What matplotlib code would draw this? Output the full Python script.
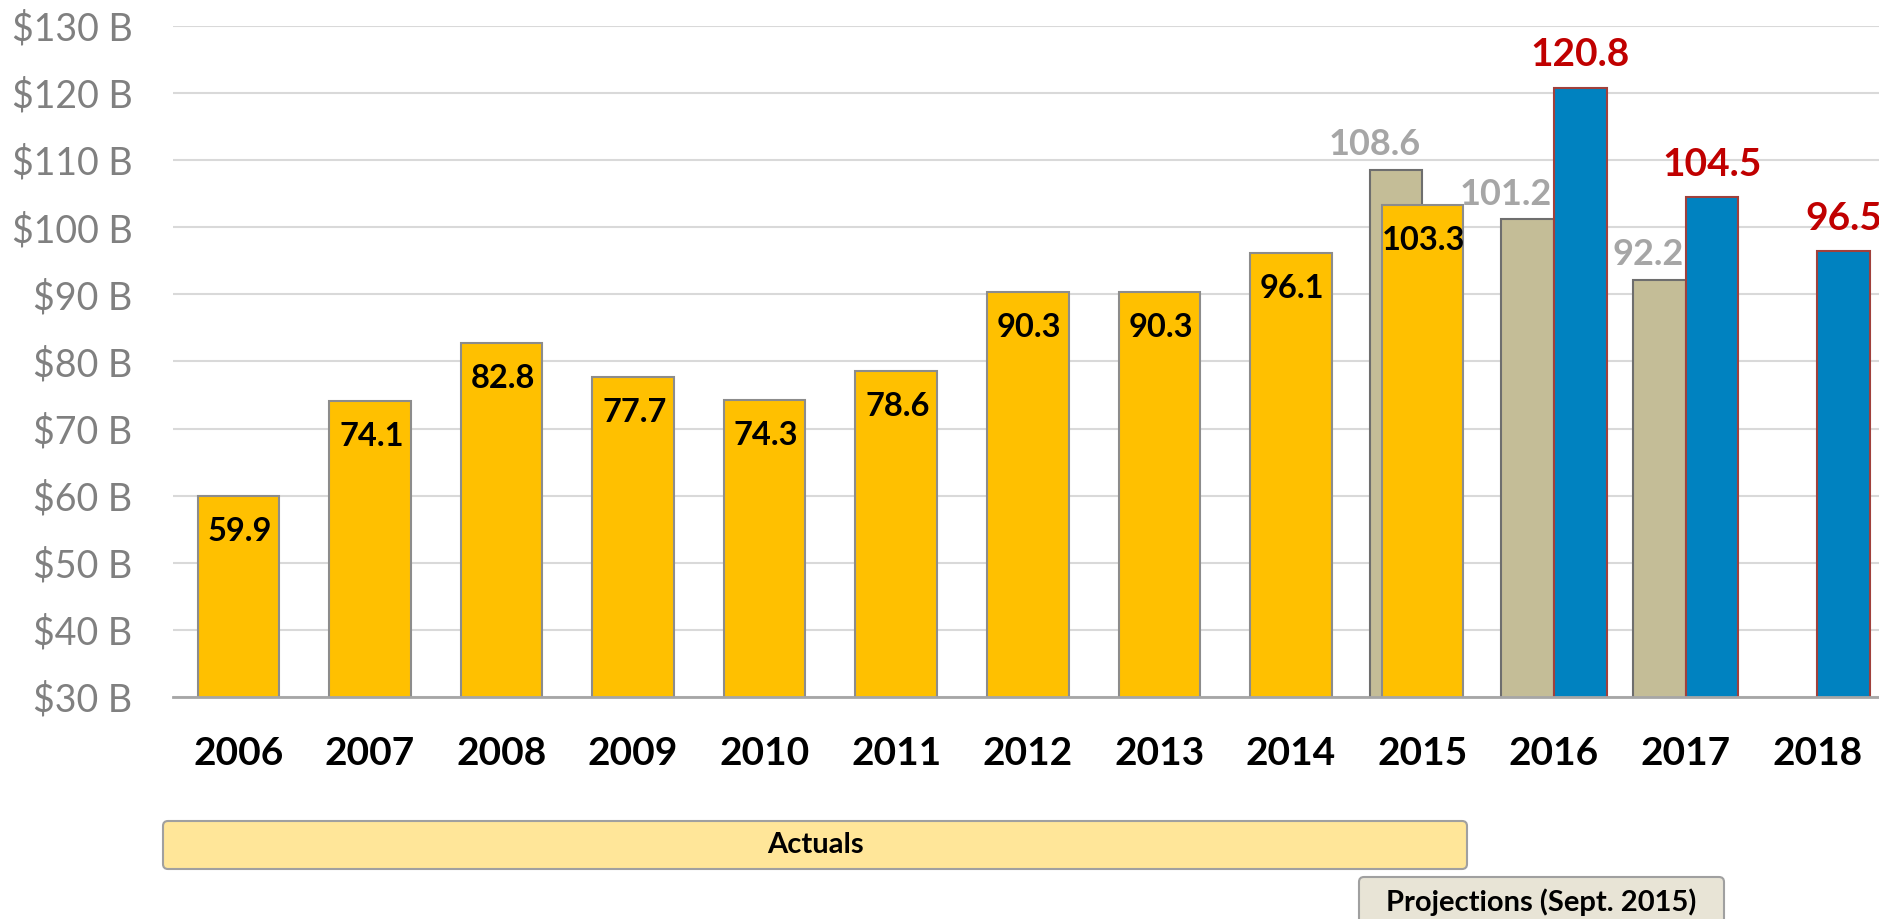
# ===============================
# Revenue: actuals vs projections
# ===============================

import matplotlib.pyplot as plt
from matplotlib.patches import FancyBboxPatch

plt.rcParams["font.family"] = ["Lato", "DejaVu Sans"]

# -------------------------------
# Data
# -------------------------------
years = [2006, 2007, 2008, 2009, 2010, 2011, 2012,
         2013, 2014, 2015, 2016, 2017, 2018]

actual_years = [2006, 2007, 2008, 2009, 2010, 2011, 2012, 2013, 2014, 2015]
actuals = [59.9, 74.1, 82.8, 77.7, 74.3, 78.6, 90.3, 90.3, 96.1, 103.3]

old_proj_years = [2015, 2016, 2017]
old_proj = [108.6, 101.2, 92.2]

new_proj_years = [2016, 2017, 2018]
new_proj = [120.8, 104.5, 96.5]

y_ticks = [30, 40, 50, 60, 70, 80, 90, 100, 110, 120, 130]

# -------------------------------
# Colours
# -------------------------------
YELLOW = "#FFC000"
TAN = "#C4BD97"
BLUE = "#0082C0"
RED = "#C00000"
LABEL_GREY = "#A6A6A6"

pos = {y: i for i, y in enumerate(years)}

fig = plt.figure(figsize=(18.79, 9.19), dpi=100)
ax = fig.add_axes([0.0919, 0.2416, 0.9081, 0.7301])

# -------------------------------
# Bars
# -------------------------------
x_old = [pos[y] - 0.2 for y in old_proj_years]
ax.bar(x_old, old_proj, width=0.4, color=TAN, edgecolor="#6E6E6E",
       linewidth=1.5, zorder=2)

x_act = [pos[y] for y in actual_years]
ax.bar(x_act, actuals, width=0.62, color=YELLOW, edgecolor="#8C8C8C",
       linewidth=1.5, zorder=3)

x_new = [pos[y] + 0.2 for y in new_proj_years]
ax.bar(x_new, new_proj, width=0.4, color=BLUE, edgecolor="#A0403C",
       linewidth=1.5, zorder=3)

# -------------------------------
# Value labels
# -------------------------------
for x, v in zip(x_act, actuals):
    ax.annotate(f"{v:.1f}", (x, v), xytext=(1, -15), textcoords="offset points",
                ha="center", va="top", fontsize=23.5, fontweight="bold",
                color="black", zorder=5)

for x, v in zip(x_old, old_proj):
    ax.annotate(f"{v:.1f}", (x + 0.2, v), xytext=(-1.5, 6), textcoords="offset points",
                ha="right", va="bottom", fontsize=26, fontweight="bold",
                color=LABEL_GREY, zorder=5)

for x, v in zip(x_new, new_proj):
    ax.annotate(f"{v:.1f}", (x, v), xytext=(0, 11), textcoords="offset points",
                ha="center", va="bottom", fontsize=28, fontweight="bold",
                color=RED, zorder=5)

# -------------------------------
# Axes styling
# -------------------------------
ax.set_ylim(30, 130)
ax.set_xlim(-0.5, 12.47)
ax.set_yticks(y_ticks)
ax.set_yticklabels([f"${t} B" for t in y_ticks], fontsize=27, color="#808080")
ax.set_xticks(range(len(years)))
ax.set_xticklabels([str(y) for y in years], fontsize=28, fontweight="bold")
ax.tick_params(axis="y", length=0, pad=29)
ax.tick_params(axis="x", length=0, pad=28)

ax.grid(axis="y", color="#D9D9D9", linewidth=1.5, zorder=0)
ax.set_axisbelow(True)
for side in ["top", "right", "left"]:
    ax.spines[side].set_visible(False)
ax.spines["bottom"].set_color("#A6A6A6")
ax.spines["bottom"].set_linewidth(2)
ax.spines["bottom"].set_zorder(4)

# -------------------------------
# Period boxes under the axis
# -------------------------------
act_box = FancyBboxPatch((1.63, 0.50), 13.04, 0.48,
                         boxstyle="round,pad=0,rounding_size=0.05",
                         transform=fig.dpi_scale_trans, facecolor="#FFE699",
                         edgecolor="#A0A0A0", linewidth=1.5)
fig.patches.append(act_box)
fig.text(8.15, 0.74, "Actuals", transform=fig.dpi_scale_trans,
         ha="center", va="center", fontsize=21, fontweight="bold")

proj_box = FancyBboxPatch((13.59, -0.10), 3.65, 0.52,
                          boxstyle="round,pad=0,rounding_size=0.05",
                          transform=fig.dpi_scale_trans, facecolor="#E8E4D6",
                          edgecolor="#A0A0A0", linewidth=1.5)
fig.patches.append(proj_box)
fig.text(15.415, 0.17, "Projections (Sept. 2015)", transform=fig.dpi_scale_trans,
         ha="center", va="center", fontsize=21, fontweight="bold")

fig.savefig("out.png", dpi=100)
